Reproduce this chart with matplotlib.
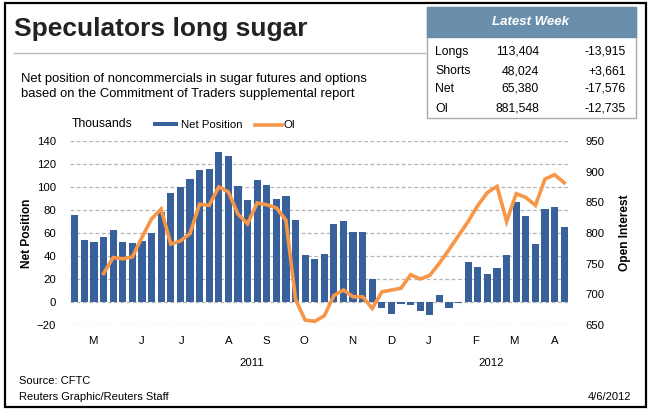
import matplotlib
matplotlib.use("Agg")
import matplotlib.pyplot as plt
import matplotlib.transforms as mtransforms
from matplotlib.patches import Rectangle
from matplotlib.lines import Line2D
import numpy as np

plt.rcParams['font.family'] = ['Liberation Sans', 'DejaVu Sans']

# ---------------- data ----------------
net_position = [76, 54.2, 52.5, 56.8, 62.9, 52.5, 51.6, 53.3, 59.7, 78, 95, 99.7,
                107.2, 115, 116, 130.7, 127.2, 101, 89, 106.4, 102, 89.9, 92.5, 71.6,
                41.2, 37.7, 42, 68.1, 70.7, 61.2, 61.2, 20.3, -4.9, -10.1, -1.4, -2.3,
                -7.5, -11, 6.4, -4.9, -0.8, 35.1, 30.7, 24.6, 29.9, 41.2, 87.2, 75.1,
                50.7, 81.2, 82.9, 65.4]
oi_start_week = 3
open_interest = [734, 760, 758, 761, 793, 823, 839, 782, 787, 799,
                 847, 845, 875, 867, 831, 815, 849, 846, 841, 821,
                 692, 658, 656, 665, 698, 707, 696, 696, 677, 704,
                 707, 710, 732, 725, 731, 751, 773, 796, 819, 845,
                 866, 876, 819, 864, 858, 845, 888, 895, 882]
month_labels = ['M', 'J', 'J', 'A', 'S', 'O', 'N', 'D', 'J', 'F', 'M', 'A']
month_weeks = [1.9, 7.0, 11.1, 16.1, 20.0, 23.9, 28.9, 33.0, 36.9, 41.8, 45.8, 50.0]
year_labels = ['2011', '2012']
year_weeks = [18.4, 43.4]
left_ticks = [-20, 0, 20, 40, 60, 80, 100, 120, 140]
right_ticks = [650, 700, 750, 800, 850, 900, 950]

table_rows = ['Longs', 'Shorts', 'Net', 'OI']
table_values = ['113,404', '48,024', '65,380', '881,548']
table_changes = ['-13,915', '+3,661', '-17,576', '-12,735']

BAR = '#38609a'
ORANGE = '#f79646'
W, H = 651, 412

fig = plt.figure(figsize=(W / 100, H / 100), dpi=100)


def fx(x):
    return x / W


def fy(y):
    return 1 - y / H


# outer border
fig.patches.append(Rectangle((fx(5), fy(407)), fx(646) - fx(5), fy(3) - fy(407),
                             transform=fig.transFigure, fill=False, ec='black', lw=1.6))

# title
fig.text(fx(14), fy(29), 'Speculators long sugar', fontsize=19, fontweight='bold',
         color='#222222', va='center', ha='left')
fig.add_artist(Line2D([fx(14), fx(427)], [fy(53), fy(53)], color='#bbbbbb', lw=1))
fig.text(fx(21), fy(79), 'Net position of noncommercials in sugar futures and options',
         fontsize=9.4, va='center', ha='left')
fig.text(fx(21), fy(94), 'based on the Commitment of Traders supplemental report',
         fontsize=9.4, va='center', ha='left')

# table
fig.patches.append(Rectangle((fx(427), fy(118)), fx(636) - fx(427), fy(7) - fy(118),
                             transform=fig.transFigure, fill=True, fc='white',
                             ec='#aaaaaa', lw=1))
fig.patches.append(Rectangle((fx(427), fy(37)), fx(636) - fx(427), fy(7) - fy(37),
                             transform=fig.transFigure, fill=True, fc='#6a8fad',
                             ec='#6a8fad', lw=1))
fig.text(fx(531), fy(22), 'Latest Week', fontsize=9.5, fontweight='bold',
         fontstyle='italic', color='white', ha='center', va='center')
row_y = [52, 71, 88.5, 108.5]
for r, v, c, y in zip(table_rows, table_values, table_changes, row_y):
    fig.text(fx(435), fy(y), r, fontsize=8.8, ha='left', va='center')
    fig.text(fx(539), fy(y), v, fontsize=8.8, ha='right', va='center')
    fig.text(fx(626), fy(y), c, fontsize=8.8, ha='right', va='center')

# axes
ax = fig.add_axes([fx(70), fy(325), fx(569) - fx(70), fy(141) - fy(325)])
weeks = np.arange(len(net_position))
ax.bar(weeks, net_position, width=0.75, color=BAR, zorder=2)
ax.set_xlim(-0.5, len(net_position) - 0.5)
ax.set_ylim(-20, 140)
ax.set_yticks(left_ticks)
ax.yaxis.grid(True, linestyle=(0, (3, 2)), color='#b5b5b5', lw=0.9)
ax.set_axisbelow(True)
for s in ax.spines.values():
    s.set_visible(False)
ax.tick_params(axis='y', length=0, pad=10, labelsize=8.2)
ax.set_xticks(month_weeks)
ax.set_xticklabels(month_labels)
ax.tick_params(axis='x', length=0, pad=8, labelsize=8.2)
ax.set_ylabel('Net Position', fontsize=8.6, fontweight='bold', labelpad=3)

trans = mtransforms.blended_transform_factory(ax.transData, fig.transFigure)
for lab, wk in zip(year_labels, year_weeks):
    ax.text(wk, fy(363), lab, transform=trans, fontsize=8.2, ha='center', va='center')

ax2 = ax.twinx()
ax2.plot(np.arange(oi_start_week, oi_start_week + len(open_interest)), open_interest,
         color=ORANGE, lw=2.6, solid_joinstyle='miter', zorder=3)
ax2.set_ylim(650, 950)
ax2.set_yticks(right_ticks)
for s in ax2.spines.values():
    s.set_visible(False)
ax2.tick_params(axis='y', length=0, pad=12, labelsize=8.2)
ax2.set_ylabel('Open Interest', fontsize=8.6, fontweight='bold', labelpad=10)

# legend row
fig.text(fx(72), fy(124), 'Thousands', fontsize=8.8, ha='left', va='center')
fig.patches.append(Rectangle((fx(153), fy(126)), fx(178) - fx(153), fy(122) - fy(126),
                             transform=fig.transFigure, fc=BAR, ec='none'))
fig.text(fx(181), fy(124.5), 'Net Position', fontsize=8.2, ha='left', va='center')
fig.add_artist(Line2D([fx(255), fx(282)], [fy(124.5), fy(124.5)], color=ORANGE, lw=2.6))
fig.text(fx(284), fy(124.5), 'OI', fontsize=8.2, ha='left', va='center')

# footer
fig.text(fx(19), fy(381), 'Source: CFTC', fontsize=8, ha='left', va='center')
fig.text(fx(19), fy(397), 'Reuters Graphic/Reuters Staff', fontsize=8, ha='left', va='center')
fig.text(fx(631), fy(397), '4/6/2012', fontsize=8, ha='right', va='center')

fig.savefig('out.png', dpi=100)
